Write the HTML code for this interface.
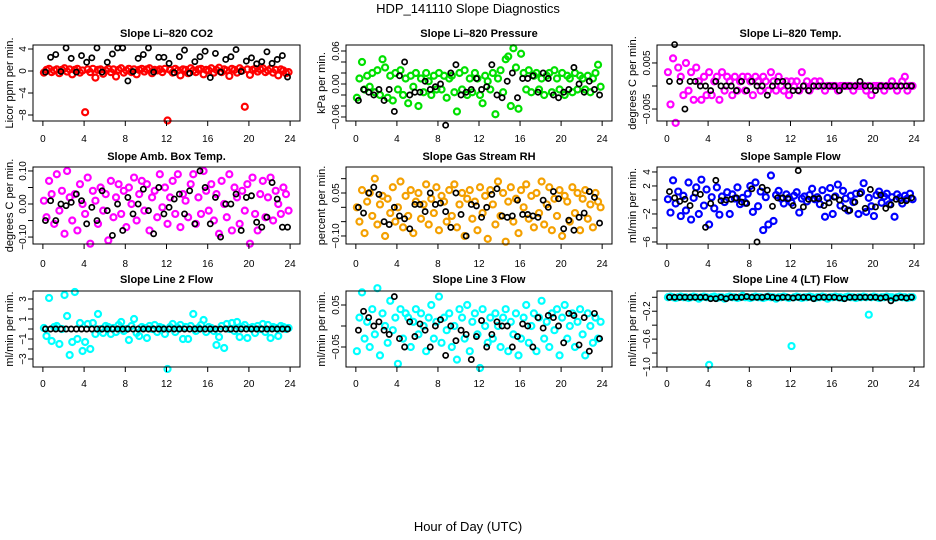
<!DOCTYPE html>
<html><head><meta charset="utf-8"><style>
html,body{margin:0;padding:0;background:#fff;}
svg{display:block;font-family:"Liberation Sans",Arial,sans-serif;}
</style></head><body>
<svg id="chart" width="936" height="540" viewBox="0 0 936 540">
<text x="468" y="13" text-anchor="middle" font-size="13">HDP_141110  Slope Diagnostics</text>
<text x="468" y="531" text-anchor="middle" font-size="13">Hour of Day (UTC)</text>
</svg>
<script>
const xTicks=[0,4,8,12,16,20,24];
const co2Vals=[-0.3,0.2,0.4,-0.2,0.1,0.3,-0.4,0.2,0.5,-0.1,0.3,-0.6,0.2,0.4,-0.3,0.1,-7.5,0.3,-0.2,0.4,-1.2,0.2,0.3,-0.5,0.1,0.4,-0.2,0.3,-1.0,0.2,0.5,-0.3,0.1,0.4,-0.2,0.3,-0.6,0.2,0.4,-0.1,0.3,0.5,-0.4,0.2,0.1,0.3,-0.2,0.4,-9.0,0.2,-0.3,0.4,0.1,-0.8,0.3,0.2,-0.4,0.5,0.1,-0.2,0.3,0.4,-0.6,0.2,0.1,0.5,-0.3,0.2,0.6,-0.2,0.3,0.1,-0.9,0.4,0.2,-0.3,0.5,0.1,-6.5,0.3,-0.7,0.2,0.4,-0.1,0.3,0.5,-0.2,0.1,0.4,-0.3,0.2,-0.8,0.3,0.1,-0.4,-0.2];
const co2Ref=[-0.2,2.5,3.0,-0.1,4.2,2.3,-0.2,2.8,1.6,2.4,4.2,-0.2,1.6,3.1,4.2,4.2,-1.8,-0.1,2.3,3.0,4.2,-0.2,2.5,2.5,1.4,-0.3,2.6,3.8,-0.4,1.7,2.6,3.6,-1.2,3.2,-0.2,2.1,2.6,3.9,-0.1,1.8,2.4,1.3,1.7,3.5,1.4,2.1,2.8,-1.1];
const presVals=[-0.025,0.01,0.04,-0.01,0.015,-0.005,0.02,-0.015,0.025,-0.02,0.045,0.03,-0.025,0.015,-0.03,0.02,-0.01,0.025,-0.02,0.01,-0.035,0.015,-0.005,0.02,-0.04,0.01,-0.015,0.02,0.005,-0.02,0.015,-0.01,0.02,-0.01,0.015,-0.025,0.01,0.015,-0.015,-0.05,0.02,-0.01,0.025,-0.02,0.01,-0.015,0.02,0.01,-0.02,-0.035,0.015,0.005,-0.01,0.02,-0.055,0.01,0.025,-0.015,0.045,0.05,-0.04,0.065,0.03,-0.045,0.055,0.02,-0.01,0.025,-0.015,0.015,0.02,-0.01,0.01,-0.02,0.015,0.02,-0.015,0.025,0.01,-0.01,0.02,-0.02,0.015,0.01,-0.015,0.02,-0.01,0.015,0.01,-0.01,0.015,-0.015,0.01,0.02,0.035,-0.005];
const presRef=[-0.03,-0.01,-0.015,-0.02,-0.01,-0.03,-0.01,-0.05,0.015,0.04,-0.02,-0.015,-0.015,0.005,-0.01,-0.005,0,-0.075,0.02,0.035,-0.02,-0.015,-0.01,0.01,-0.01,-0.005,0.035,-0.02,-0.025,0.005,0.02,-0.025,0.01,0.01,0.015,-0.015,0.02,0.01,-0.02,-0.025,-0.015,-0.01,0.03,0.0,-0.015,0.005,-0.01,-0.02];
const tempVals=[0.003,-0.004,0.006,-0.008,0.004,0.002,-0.002,0.005,-0.001,0.003,-0.003,0.004,0.001,-0.003,0.002,-0.002,0.003,-0.002,0.001,0.002,-0.003,0.003,-0.001,0.002,0.001,-0.002,0.002,-0.001,0.001,0.002,-0.001,0.002,0.001,-0.002,0.002,0.001,-0.001,0.002,0.001,-0.001,0.003,0.001,-0.001,0.002,0,-0.001,0.001,-0.002,0.001,0,0.001,-0.001,0.003,0,0.001,-0.001,0,0.001,0,0.001,0,-0.001,0,0,0,0,-0.001,0,0,0,0,0,-0.001,0,0,0,0,-0.001,0,-0.002,0,0,0,0,-0.001,0,0,0.001,0,-0.001,0,0.001,0.002,-0.001,0,0];
const tempRef=[0.001,0.009,0.001,-0.005,0.001,0.001,0,0,-0.001,0.001,0,0,0,-0.001,0.001,-0.001,0.001,0,0,-0.002,0,0.001,0.001,0,-0.001,-0.001,0,-0.001,0,0,0,0,0,-0.001,0,0,0,0.001,0,0,-0.001,0,0,0,0,0,0,0];
const ambVals=[0.01,-0.04,0.07,0.03,-0.06,0.09,-0.02,0.04,-0.09,0.1,0.02,-0.05,0.03,-0.08,0.06,0.0,-0.03,0.08,-0.12,0.04,0.01,-0.06,0.05,-0.02,0.03,-0.11,0.07,-0.04,0.02,0.06,-0.03,0.04,-0.07,0.05,0.0,0.08,-0.05,0.03,0.07,-0.02,0.06,-0.08,0.02,0.04,-0.04,0.09,-0.01,0.05,-0.06,0.02,0.07,-0.03,0.09,-0.07,0.03,0.01,-0.04,0.06,0.09,-0.06,0.02,-0.03,0.1,0.04,-0.02,0.06,-0.05,0.03,-0.09,0.07,0.0,-0.04,0.09,-0.08,0.05,0.02,-0.06,0.04,-0.02,0.06,-0.12,0.08,-0.03,-0.08,0.03,0.07,-0.04,0.02,0.08,-0.05,0.04,0.0,-0.03,0.05,0.03,-0.02];
const ambRef=[-0.05,0.01,-0.05,0.0,-0.005,0.005,0.03,0.01,-0.06,-0.01,-0.05,0.04,-0.02,-0.095,0.0,-0.08,0.02,-0.03,0.0,0.045,-0.02,-0.09,0.05,-0.03,-0.01,0.015,0.03,-0.03,0.04,-0.06,0.1,0.05,-0.06,0.02,-0.1,0.0,0.0,0.03,-0.08,0.02,0.025,-0.055,-0.07,-0.04,0.065,0.015,-0.07,-0.07];
const rhVals=[0.0,-0.05,0.06,-0.09,0.02,0.05,-0.03,0.1,-0.06,0.01,0.04,-0.1,0.03,-0.02,0.07,-0.05,0.0,0.09,-0.07,0.04,-0.03,0.06,-0.09,0.02,0.05,-0.04,0.01,0.08,-0.06,0.03,-0.02,0.07,-0.08,0.04,0.02,-0.05,0.06,-0.03,0.08,-0.07,0.01,0.05,-0.1,0.03,0.06,-0.04,0.02,-0.08,0.07,-0.02,0.04,-0.11,0.06,0.01,-0.06,0.09,-0.03,0.05,-0.12,0.02,0.07,-0.05,0.03,-0.09,0.06,0.0,0.08,-0.04,0.04,-0.07,0.05,-0.02,0.09,-0.06,0.01,0.07,-0.08,0.03,-0.03,0.06,-0.1,0.04,0.02,-0.05,0.07,-0.02,0.05,-0.08,0.03,0.06,-0.04,0.01,-0.07,0.05,0.02,0.0];
const rhRef=[0.0,-0.02,0.05,0.07,0.045,-0.05,-0.06,0.0,-0.03,-0.04,-0.075,0.01,0.01,-0.015,0.05,0.01,0.015,-0.015,-0.07,0.05,-0.025,-0.1,0.01,0.005,-0.035,0.0,0.045,0.065,-0.03,-0.035,-0.03,0.025,-0.025,-0.025,-0.03,-0.035,0.025,0.0,0.055,0.03,-0.075,-0.045,-0.08,-0.035,-0.02,0.055,0.035,-0.055];
const flowVals=[0.1,-1.8,2.8,-0.5,1.2,-2.3,0.6,-1.5,2.5,-2.8,0.3,1.8,-2.0,2.9,-0.8,1.5,-3.5,0.4,-1.2,1.8,-2.1,0.5,-0.3,1.1,-2.0,0.8,0.2,1.8,-0.6,0.3,-0.4,0.9,2.0,-1.7,2.5,-0.9,1.2,-4.3,0.4,-3.5,3.5,-3.0,0.7,1.3,0.2,-0.5,0.8,0.3,-0.4,0.6,1.1,-1.8,0.2,0.5,-0.2,0.7,1.6,0.1,0.4,-0.6,1.4,-2.4,0.3,1.7,-2.0,0.5,2.2,-0.8,1.3,0.2,-1.5,0.6,-0.3,0.9,-2.0,1.1,2.4,-1.7,0.3,-0.9,-2.3,0.7,1.2,-0.4,0.5,0.9,-0.6,0.4,-2.4,0.8,0.3,-0.5,0.6,0.2,0.9,0.1];
const flowRef=[1.2,0.3,-0.2,0.1,-0.8,1.0,0.8,-3.9,-0.5,2.8,-0.1,0.0,0.1,0.3,-0.3,-0.5,1.6,-6.0,1.8,1.4,-0.9,0.3,0.3,0.2,-0.8,4.2,-1.0,0.1,0.2,0.2,-0.8,-0.4,0.4,0.0,-1.2,-1.5,-0.3,0.9,-1.2,1.5,-1.0,0.7,-1.2,-0.7,0.1,-0.1,-0.1,0.3];
const line2Vals=[0.1,-0.7,3.1,-1.2,0.2,0.3,-1.5,0.0,3.4,1.3,-2.6,-1.3,3.7,-1.0,0.6,-2.2,-1.3,0.5,-2.0,0.6,-0.5,1.5,0.0,-0.4,0.3,0.2,-0.5,0.1,-0.3,0.4,0.7,-0.2,0.0,-1.1,0.3,1.0,-0.4,-0.7,0.2,0.1,-0.9,0.3,0.0,0.4,-0.3,0.2,0.1,-0.5,-4.0,0.2,0.5,-0.3,0.1,0.4,-1.0,0.2,-1.0,0.3,1.5,-0.2,0.1,0.4,0.9,-0.3,0.2,0.1,-0.2,-1.6,-0.8,0.3,-1.9,0.5,0.0,0.6,-0.2,0.7,-0.8,0.2,0.4,-0.9,0.1,0.2,-0.4,0.3,0.0,0.5,-0.3,0.4,-0.9,0.2,0.1,-0.7,0.3,0.2,0.0,0.1];
const line2Ref=[0,0,0,0,0,0,0,0,0,0,0,0,0,0,0,0,0,0,0,0,0,0,0,0,0,0,0,0,0,0,0,0,0,0,0,0,0,0,0,0,0,0,0,0,0,0,0,0];
const line3Vals=[-0.06,0.02,0.08,-0.03,0.01,-0.05,0.04,-0.02,0.09,-0.07,0.03,0.0,-0.04,0.06,-0.01,0.02,-0.09,0.04,-0.03,0.03,0.02,-0.05,0.01,0.04,-0.02,0.03,0.0,-0.06,0.02,0.05,-0.03,0.01,0.07,-0.04,0.02,-0.01,0.03,-0.05,0.0,-0.08,0.04,0.02,-0.03,0.05,-0.06,0.01,0.03,-0.02,-0.1,0.04,0.0,-0.04,0.02,-0.03,0.03,0.0,-0.05,0.02,0.04,-0.06,0.01,-0.02,0.03,-0.07,-0.03,0.02,0.05,-0.04,0.0,0.03,-0.06,0.02,0.06,-0.03,0.01,-0.05,0.03,-0.01,0.04,-0.07,0.02,0.05,-0.03,0.0,0.03,-0.05,0.01,0.04,-0.02,-0.07,0.03,0.0,-0.04,0.02,-0.03,0.01];
const line3Ref=[-0.01,0.035,0.02,0.0,0.01,-0.01,-0.02,0.07,-0.03,-0.05,0.01,-0.025,0.005,-0.01,-0.05,0.0,0.015,-0.07,0.0,-0.035,-0.01,-0.02,-0.08,-0.025,0.013,-0.05,-0.02,0.01,0.0,0.0,-0.05,-0.025,0.005,0.0,-0.05,0.02,-0.005,0.025,0.02,0.0,-0.04,0.03,0.025,-0.045,0.02,-0.06,0.03,-0.03];
const line4Vals=[0,0.01,0,-0.01,0,0.01,0,0,-0.01,0,0.01,0,-0.02,0,0.01,0,-0.97,0,0.01,-0.01,0,0,-0.02,0,0.01,0,0,-0.01,0,0.02,0,0,-0.01,0,0.01,0,0,-0.01,0,0.01,0,0,-0.02,0,0,0.01,0,-0.01,-0.7,0,0.01,0,-0.01,0,0,0.01,0,-0.01,0,0,0.01,0,-0.02,0,0,0.01,0,0,-0.01,0,0.01,0,0,-0.01,0,0,0.01,0,-0.25,0,0.01,0,-0.01,0,0,0.01,0,0,-0.01,0,0.01,0,0,-0.01,0,0];
const line4Ref=[0,0,0,0,0,0,0,0,-0.02,-0.02,0,-0.02,0,0,0,0.01,0,0,0,0.01,0,-0.01,0,0,-0.01,0,0,0,-0.02,0,0,0,0,-0.01,-0.02,0,0,0,0,0,0,-0.01,0,-0.05,-0.01,0,-0.01,0];

const COLS=[{l:33,r:300,ttl:13},{l:346,r:612,ttl:325},{l:657,r:924,ttl:636}];
const ROWS=[{t:45,b:121,title:37,xl:142},{t:167,b:244,title:160,xl:267},{t:291,b:367,title:283,xl:387}];
const panels=[
 {name:'co2',title:'Slope Li\u2013820 CO2',yt:'Licor ppm per min.',c:0,r:0,ymin:-9.09,ymax:4.73,ticks:[-8,-4,0,4],labels:[-8,-4,0,4],fmt:v=>v<0?'\u2212'+(-v):''+v,vals:co2Vals,ref:co2Ref,col:'#ff0000'},
 {name:'pressure',title:'Slope Li\u2013820 Pressure',yt:'kPa per min.',c:1,r:0,ymin:-0.0673,ymax:0.0709,ticks:[-0.06,-0.04,-0.02,0,0.02,0.04,0.06],labels:[-0.06,0,0.06],fmt:v=>(v<0?'\u2212':'')+Math.abs(v).toFixed(2),vals:presVals,ref:presRef,col:'#00e000'},
 {name:'temp',title:'Slope Li\u2013820 Temp.',yt:'degrees C per min.',c:2,r:0,ymin:-0.0076,ymax:0.0089,ticks:[-0.005,0,0.005],labels:[-0.005,0.005],fmt:v=>(v<0?'\u2212':'')+Math.abs(v).toFixed(3),vals:tempVals,ref:tempRef,col:'#ff00ff'},
 {name:'amb-box-temp',title:'Slope Amb. Box Temp.',yt:'degrees C per min.',c:0,r:1,ymin:-0.121,ymax:0.112,ticks:[-0.1,-0.05,0,0.05,0.1],labels:[-0.1,0,0.1],fmt:v=>(v<0?'\u2212':'')+Math.abs(v).toFixed(2),vals:ambVals,ref:ambRef,col:'#ff00ff'},
 {name:'gas-rh',title:'Slope Gas Stream RH',yt:'percent per min.',c:1,r:1,ymin:-0.128,ymax:0.1407,ticks:[-0.1,-0.05,0,0.05,0.1],labels:[-0.1,0.05],fmt:v=>(v<0?'\u2212':'')+Math.abs(v).toFixed(2),vals:rhVals,ref:rhRef,col:'#f4a000'},
 {name:'sample-flow',title:'Slope Sample Flow',yt:'ml/min per min.',c:2,r:1,ymin:-6.29,ymax:4.71,ticks:[-6,-4,-2,0,2,4],labels:[-6,-2,2,4],fmt:v=>v<0?'\u2212'+(-v):''+v,vals:flowVals,ref:flowRef,col:'#0000ff'},
 {name:'line2-flow',title:'Slope Line 2 Flow',yt:'ml/min per min.',c:0,r:2,ymin:-3.8,ymax:3.8,ticks:[-3,-2,-1,0,1,2,3],labels:[-3,-1,1,3],fmt:v=>v<0?'\u2212'+(-v):''+v,vals:line2Vals,ref:line2Ref,col:'#00ffff'},
 {name:'line3-flow',title:'Slope Line 3 Flow',yt:'ml/min per min.',c:1,r:2,ymin:-0.0976,ymax:0.0833,ticks:[-0.05,0,0.05],labels:[-0.05,0.05],fmt:v=>(v<0?'\u2212':'')+Math.abs(v).toFixed(2),vals:line3Vals,ref:line3Ref,col:'#00ffff'},
 {name:'line4-flow',title:'Slope Line 4 (LT) Flow',yt:'ml/min per min.',c:2,r:2,ymin:-1.0,ymax:0.09,ticks:[-1.0,-0.8,-0.6,-0.4,-0.2,0],labels:[-1.0,-0.6,-0.2],fmt:v=>(v<0?'\u2212':'')+Math.abs(v).toFixed(1),vals:line4Vals,ref:line4Ref,col:'#00ffff'}
];
const NS='http://www.w3.org/2000/svg';
const svg=document.getElementById('chart');
function mk(tag,attrs,parent){const e=document.createElementNS(NS,tag);for(const k in attrs)e.setAttribute(k,attrs[k]);(parent||svg).appendChild(e);return e;}
panels.forEach(p=>{
 const C=COLS[p.c],R=ROWS[p.r];
 const g=mk('g',{});
 
 
 const xs=t=>C.l+(t+0.96)/25.92*(C.r-C.l);
 const ys=v=>R.b-(v-p.ymin)/(p.ymax-p.ymin)*(R.b-R.t);
 const t=mk('text',{x:(C.l+C.r)/2,y:R.title,'text-anchor':'middle','font-size':11,'font-weight':'bold'},g);
 t.textContent=p.title;
 
 
 const yt=mk('text',{transform:`translate(${C.ttl},${(R.t+R.b)/2}) rotate(-90)`,'text-anchor':'middle','font-size':11},g);
 yt.textContent=p.yt;
 
 
 p.vals.forEach((v,i)=>{
  const c=mk('circle',{cx:xs(i*0.25+0.1),cy:ys(v),r:3,fill:'none',stroke:p.col,'stroke-width':2.2},g);
  
  
 });
 p.ref.forEach((v,i)=>{
  const c=mk('circle',{cx:xs(i*0.5+0.25),cy:ys(v),r:2.6,fill:'none',stroke:'#000','stroke-width':1.7},g);
  
  
 });
 const box=mk('rect',{x:C.l,y:R.t,width:C.r-C.l,height:R.b-R.t,fill:'none',stroke:'#000','stroke-width':1},g);
 
 
 mk('line',{x1:xs(0),x2:xs(24),y1:R.b,y2:R.b,stroke:'#000'},g);
 xTicks.forEach(v=>{
  mk('line',{x1:xs(v),x2:xs(v),y1:R.b,y2:R.b+5,stroke:'#000'},g);
  const l=mk('text',{x:xs(v),y:R.xl,'text-anchor':'middle','font-size':10},g);
  l.textContent=v;
  
  
 });
 p.ticks.forEach(v=>{
  mk('line',{x1:C.l-5,x2:C.l,y1:ys(v),y2:ys(v),stroke:'#000'},g);
 });
 p.labels.forEach(v=>{
  const l=mk('text',{transform:`translate(${C.l-7},${ys(v)}) rotate(-90)`,'text-anchor':'middle','font-size':10},g);
  l.textContent=p.fmt(v);
  
  
 });
});
</script>
</body></html>
